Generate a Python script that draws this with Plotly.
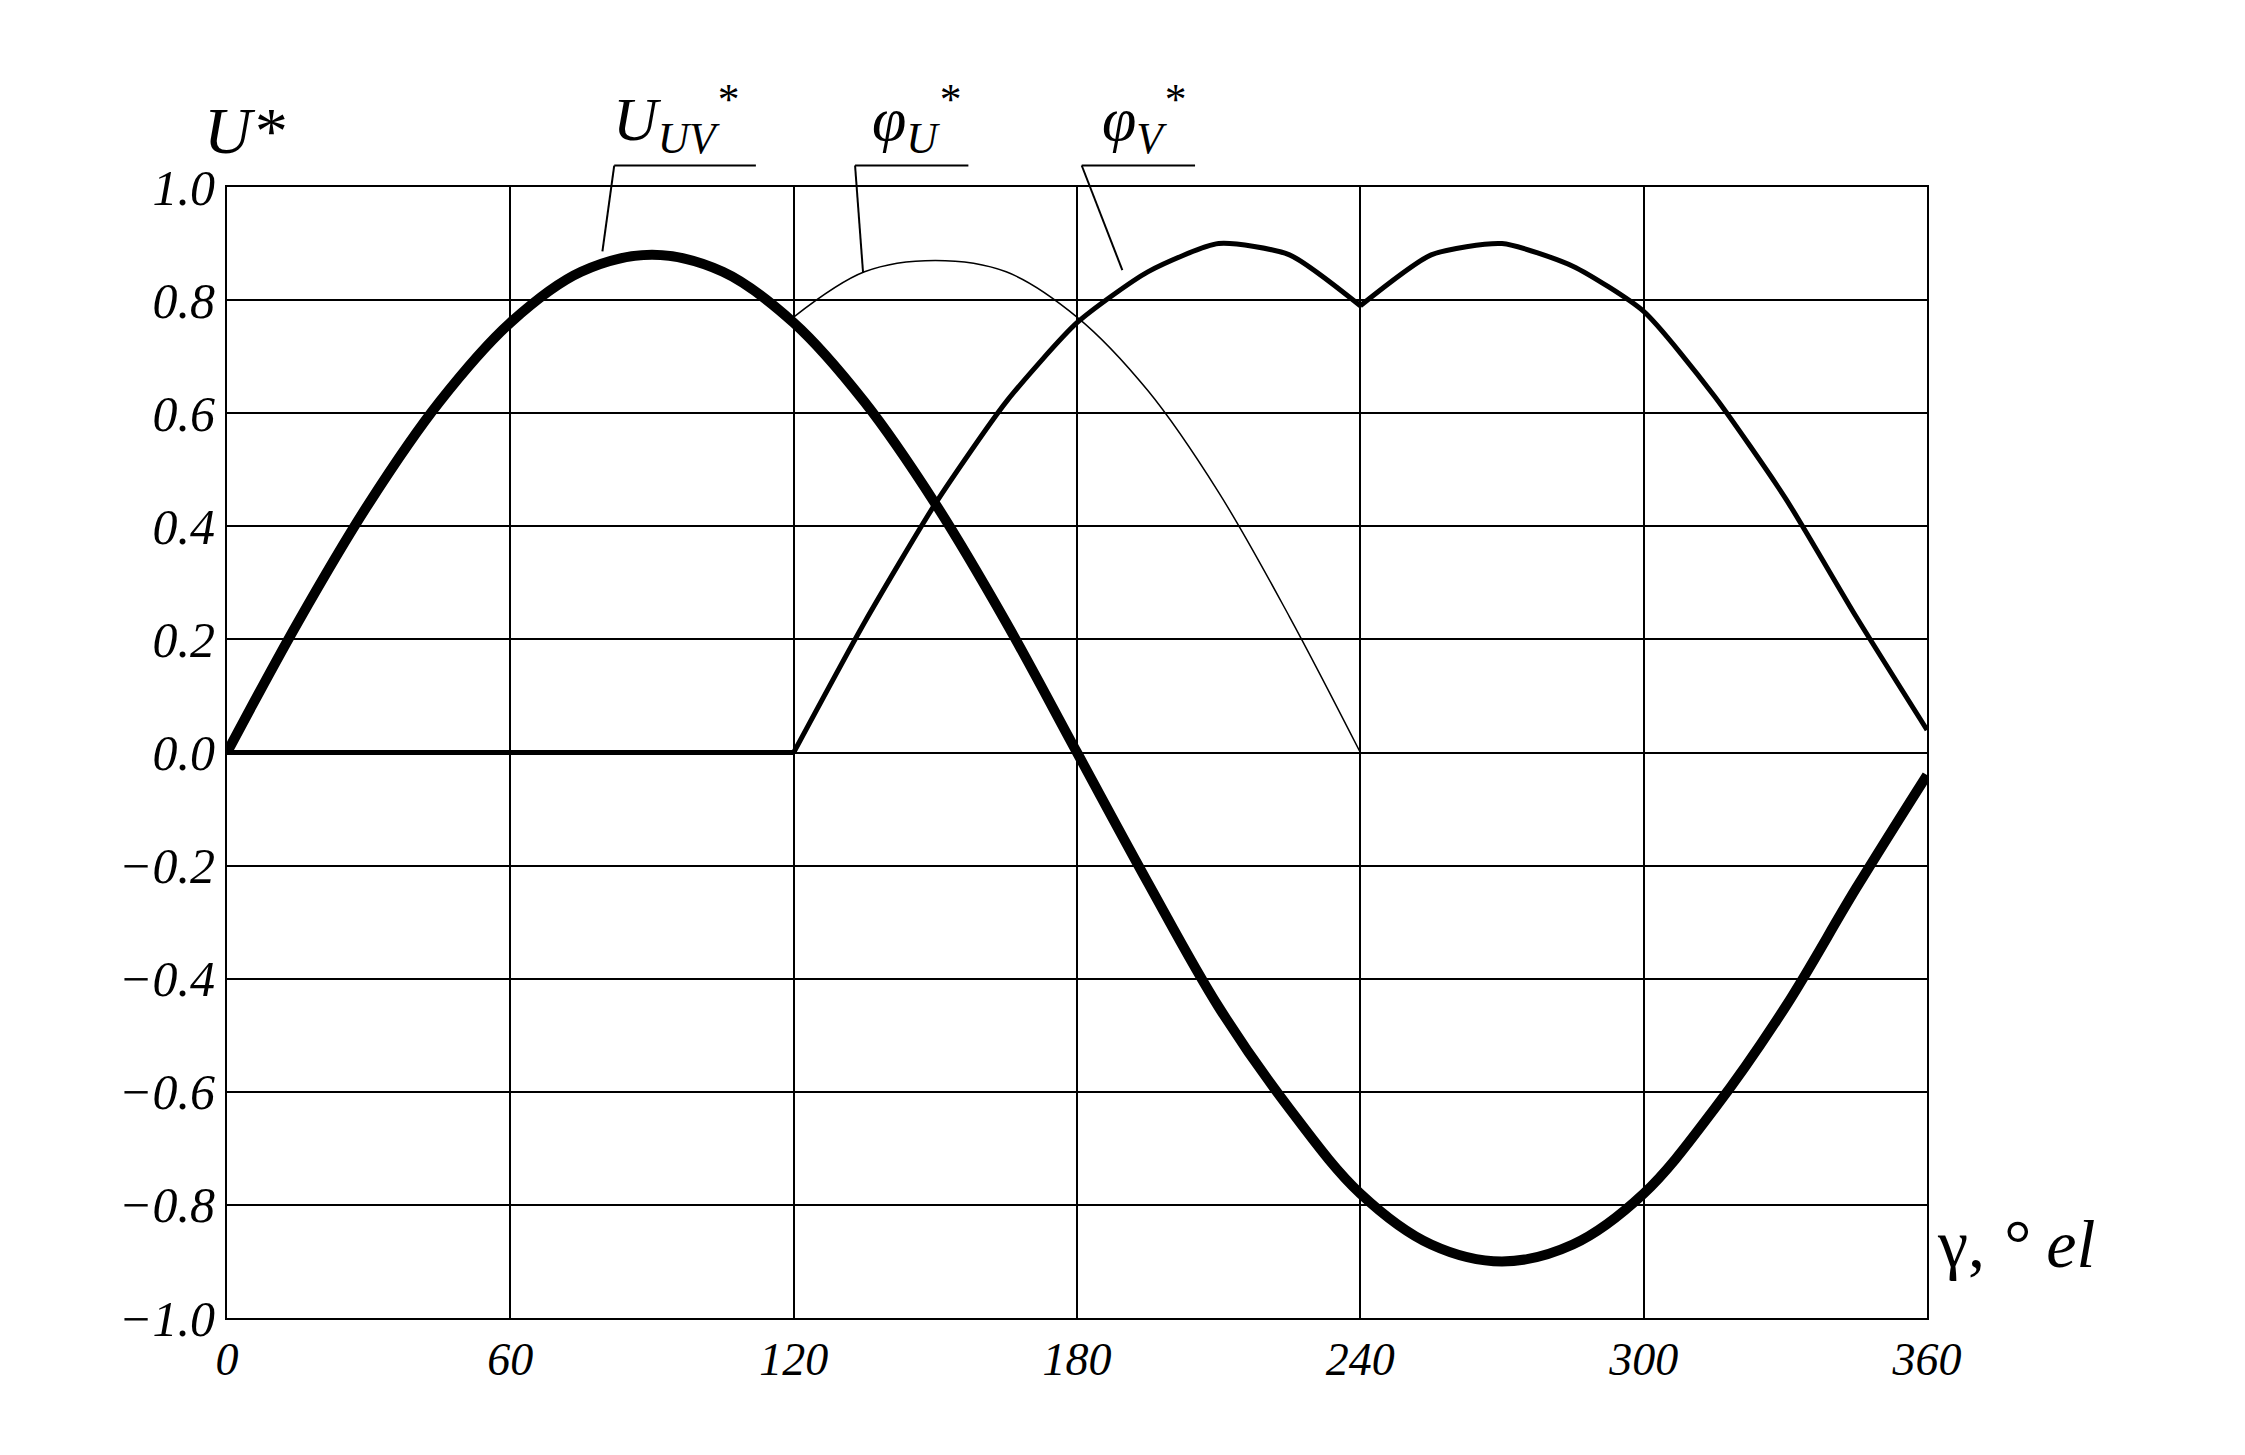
import plotly.graph_objects as go

gamma = [0,15,30,45,60,75,90,105,120,135,150,165,180,195,210,225,240,255,270,285,300,315,330,345,360]
u_uv = [0,0.23,0.44,0.62,0.76,0.85,0.88,0.85,0.76,0.62,0.44,0.23,0.0,-0.23,-0.45,-0.63,-0.78,-0.87,-0.9,-0.87,-0.78,-0.63,-0.45,-0.24,-0.04]
gamma_u = [120,135,150,165,180,195,210,225,240]
phi_u = [0.77,0.85,0.87,0.85,0.77,0.64,0.46,0.24,0.0]
gamma_v0 = [0,120]
phi_v0 = [0,0]
gamma_v1 = [120,135,150,165,180,195,210,225,240]
phi_v1 = [0,0.23,0.44,0.62,0.76,0.85,0.9,0.88,0.79]
gamma_v2 = [240,255,270,285,300,315,330,345,360]
phi_v2 = [0.79,0.88,0.9,0.86,0.78,0.63,0.45,0.24,0.04]
xticks = [0,60,120,180,240,300,360]
yticks = [-1.0,-0.8,-0.6,-0.4,-0.2,0.0,0.2,0.4,0.6,0.8,1.0]
ylabels = [("\u2212" if v < 0 else "") + f"{abs(v):.1f}" for v in yticks]

fig = go.Figure()
fig.add_trace(go.Scatter(x=gamma_u, y=phi_u, mode="lines", line=dict(color="black", width=1.5, shape="spline")))
for gx, gy in [(gamma_v0, phi_v0), (gamma_v1, phi_v1), (gamma_v2, phi_v2)]:
    fig.add_trace(go.Scatter(x=gx, y=gy, mode="lines", line=dict(color="black", width=5, shape="spline", smoothing=0.6)))
fig.add_trace(go.Scatter(x=gamma, y=u_uv, mode="lines", line=dict(color="black", width=10, shape="spline")))

def py(v):
    return (v + 1) / 2

leaders = [
    ([112, 82, 79.5], [1.038, 1.038, 0.886]),
    ([157, 133, 134.7], [1.038, 1.038, 0.848]),
    ([205, 181, 189.6], [1.038, 1.038, 0.853]),
]
shapes = []
for lx, ly in leaders:
    for i in range(len(lx) - 1):
        shapes.append(dict(type="line", xref="x", yref="paper", x0=lx[i], x1=lx[i+1],
                           y0=py(ly[i]), y1=py(ly[i+1]), line=dict(color="black", width=2)))

font = dict(family="Liberation Serif", color="black")
ann = [
    (95, "<i>U<sub>UV</sub><sup>*</sup></i>"),
    (146, "<i>φ<sub>U</sub><sup>*</sup></i>"),
    (194, "<i>φ<sub>V</sub><sup>*</sup></i>"),
]
annotations = [dict(x=x, y=py(1.04), xref="x", yref="paper", text=t, showarrow=False,
                    yanchor="bottom", font=dict(size=62, **font)) for x, t in ann]
annotations.append(dict(x=-0.015, y=1.05, xref="paper", yref="paper", text="<i>U*</i>", showarrow=False,
                        xanchor="left", yanchor="middle", font=dict(size=66, **font)))
annotations.append(dict(x=1.005, y=0.03, xref="paper", yref="paper", text="γ, <i>° el</i>", showarrow=False,
                        xanchor="left", yanchor="bottom", font=dict(size=68, **font)))

fig.update_layout(
    width=2245, height=1455, paper_bgcolor="white", plot_bgcolor="white",
    margin=dict(l=219, r=326, t=179, b=145), showlegend=False, annotations=annotations, shapes=shapes,
    xaxis=dict(range=[0, 360], tickvals=xticks, ticktext=[f"<i>{v}</i>" for v in xticks],
               showgrid=True, gridcolor="black", gridwidth=2, zeroline=False,
               showline=True, linecolor="black", linewidth=2, mirror=True,
               tickfont=dict(size=46, **font), ticks=""),
    yaxis=dict(range=[-1, 1], tickvals=yticks, ticktext=[f"<i>{t}</i>" for t in ylabels],
               showgrid=True, gridcolor="black", gridwidth=2, zeroline=False,
               showline=True, linecolor="black", linewidth=2, mirror=True,
               tickfont=dict(size=50, **font), ticks=""),
)
fig.write_html("out.html")
